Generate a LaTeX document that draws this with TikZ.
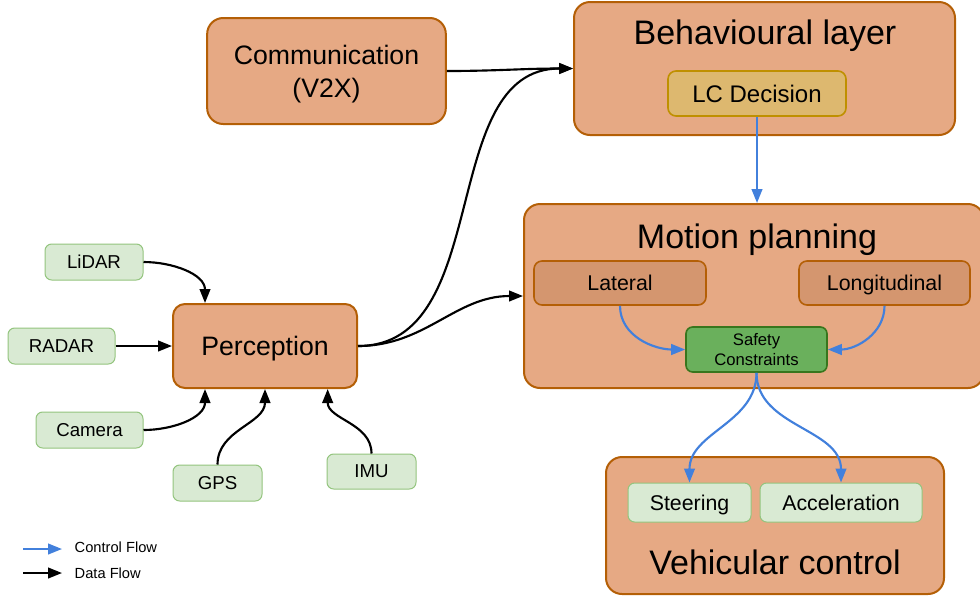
\documentclass[tikz,border=0pt]{standalone}
\usepackage{fontspec}
\setmainfont{Liberation Sans}
\usetikzlibrary{arrows.meta}
\definecolor{layerfill}{HTML}{E6A984}
\definecolor{layerdraw}{HTML}{B45F06}
\definecolor{subfill}{HTML}{D4966F}
\definecolor{lcfill}{HTML}{DDB86F}
\definecolor{lcdraw}{HTML}{BF9000}
\definecolor{safefill}{HTML}{6AB05C}
\definecolor{safedraw}{HTML}{38761D}
\definecolor{sensorfill}{HTML}{D9EAD3}
\definecolor{sensordraw}{HTML}{93C47D}
\definecolor{ctrlblue}{HTML}{4280DC}
\tikzset{
	layer/.style={draw=layerdraw, fill=layerfill, line width=1.5pt, rounded corners=12pt, text depth=0pt},
	sublayer/.style={draw=layerdraw, fill=subfill, line width=1.2pt, rounded corners=6pt, text depth=0pt, font=\fontsize{16}{19}\selectfont},
	sensor/.style={draw=sensordraw, fill=sensorfill, line width=0.75pt, rounded corners=5pt, text depth=0pt, font=\fontsize{14}{17}\selectfont},
	title/.style={text depth=0pt, font=\fontsize{25.5}{30}\selectfont},
	data/.style={-{Triangle[length=10.5pt,width=8pt]}, line width=1.6pt},
	ctrl/.style={data, draw=ctrlblue, color=ctrlblue},
	legendtext/.style={anchor=west, font=\fontsize{11}{13}\selectfont}
}

\begin{document}
\begin{tikzpicture}[x=0.75pt, y=0.75pt]
	% 980 x 601 px, y downwards is negative
	\useasboundingbox (0,0) rectangle (980,-601);

	% layers
	\node[layer, minimum width=179pt, minimum height=79.5pt, align=center, font=\fontsize{20}{25}\selectfont] (comm) at (326.5,-71) {Communication\\(V2X)};
	\node[layer, minimum width=285.75pt, minimum height=99.75pt] (behav) at (764.5,-68.5) {};
	\node[title] (behavtitle) at (765,-32) {Behavioural layer};
	\node[draw=lcdraw, fill=lcfill, line width=1.2pt, rounded corners=6pt, minimum width=133.5pt, minimum height=33.75pt, text depth=0pt, font=\fontsize{18}{21}\selectfont] (lcdec) at (757,-93.5) {LC Decision};

	\node[layer, minimum width=345pt, minimum height=138pt] (motion) at (754,-296) {};
	\node[title] (motiontitle) at (757,-236) {Motion planning};
	\node[sublayer, minimum width=129pt, minimum height=33pt] (lateral) at (620,-283) {Lateral};
	\node[sublayer, minimum width=128.25pt, minimum height=33pt] (longit) at (884.5,-283) {Longitudinal};
	\node[draw=safedraw, fill=safefill, line width=1.2pt, rounded corners=5pt, minimum width=105.75pt, minimum height=33.75pt, align=center, font=\fontsize{12.5}{15}\selectfont] (safety) at (756.5,-349.5) {Safety\\Constraints};

	\node[layer, minimum width=253.5pt, minimum height=102.75pt] (vehic) at (775,-525.5) {};
	\node[title] (vehictitle) at (775,-562) {Vehicular control};
	\node[sensor, font=\fontsize{16}{19}\selectfont, minimum width=92.25pt, minimum height=29.25pt] (steer) at (689.5,-502.5) {Steering};
	\node[sensor, font=\fontsize{16}{19}\selectfont, minimum width=121.5pt, minimum height=29.25pt] (accel) at (841,-502.5) {Acceleration};

	\node[layer, rounded corners=9pt, minimum width=138pt, minimum height=63pt, font=\fontsize{20}{24}\selectfont] (percep) at (265,-346) {Perception};

	% sensors
	\node[sensor, minimum width=73.5pt, minimum height=27pt] (lidar) at (94,-262) {LiDAR};
	\node[sensor, minimum width=80.25pt, minimum height=27pt] (radar) at (61.5,-346) {RADAR};
	\node[sensor, minimum width=80.25pt, minimum height=27pt] (camera) at (89.5,-430) {Camera};
	\node[sensor, minimum width=66.75pt, minimum height=27pt] (gps) at (217.5,-483) {GPS};
	\node[sensor, minimum width=66.75pt, minimum height=26.25pt] (imu) at (371.5,-471.5) {IMU};

	% data flow
	\draw[data] (lidar.east) to[out=0, in=90] ([xshift=-45pt]percep.north);
	\draw[data] (radar) -- (percep);
	\draw[data] (camera.east) to[out=0, in=-90] ([xshift=-45pt]percep.south);
	\draw[data] (gps.north) to[out=90, in=-90] (percep.south);
	\draw[data] (imu.north) to[out=90, in=-90] ([xshift=47pt]percep.south);
	\draw[data] (comm.east) to[out=0, in=180] (behav.west);
	\draw[data] (percep.east) to[out=0, in=180] (behav.west);
	\draw[data] (percep.east) to[out=0, in=180] (motion.west);

	% control flow
	\draw[ctrl] (lcdec.south) -- (lcdec.south |- motion.north);
	\draw[ctrl] (lateral.south) to[out=-90, in=180] (safety.west);
	\draw[ctrl] (longit.south) to[out=-90, in=0] (safety.east);
	\draw[ctrl] (safety.south) to[out=-90, in=90] (steer.north);
	\draw[ctrl] (safety.south) to[out=-90, in=90] (accel.north);

	% legend
	\coordinate (ctrlstart) at (23,-549);
	\coordinate (ctrlend) at (62,-549);
	\coordinate (datastart) at (23,-573);
	\coordinate (dataend) at (62,-573);
	\draw[ctrl] (ctrlstart) -- (ctrlend);
	\draw[data] (datastart) -- (dataend);
	\node[legendtext] (ctrllabel) at (70,-547) {Control Flow};
	\node[legendtext] (datalabel) at (70,-573) {Data Flow};
\end{tikzpicture}
\end{document}
